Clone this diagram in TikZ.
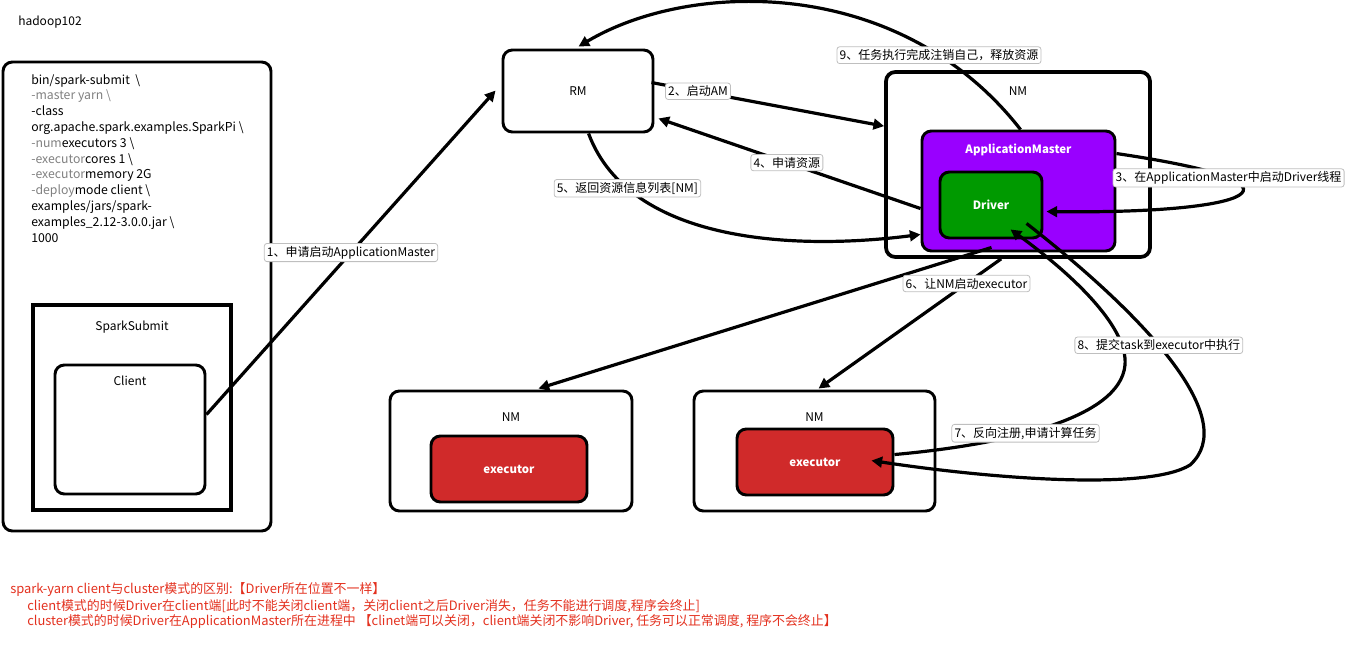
\documentclass[tikz,border=0pt]{standalone}
\usepackage{fontspec}
\setmainfont{Noto Sans CJK SC}
\usetikzlibrary{fit,calc,arrows.meta}
\definecolor{ampurple}{HTML}{9900FF}
\definecolor{drvgreen}{HTML}{009A00}
\definecolor{exred}{HTML}{D02A2A}
\definecolor{notered}{HTML}{E3301E}
\definecolor{codegray}{HTML}{808080}
\begin{document}
\begin{tikzpicture}[x=0.75pt,y=-0.75pt,
  box/.style={draw, line width=2.2pt, rounded corners=7pt, inner sep=0pt},
  sqbox/.style={draw, line width=2.8pt, inner sep=0pt},
  conn/.style={line width=2.4pt, -{Triangle[length=8pt,width=8pt]}},
  lbl/.style={draw=black!25, line width=0.6pt, fill=white, rounded corners=2pt, inner sep=2pt, font=\fontsize{9}{11}\selectfont, text=black},
  txt/.style={font=\fontsize{9}{11}\selectfont, inner sep=0pt},
  wtxt/.style={font=\fontsize{8.6}{11}\selectfont\bfseries, text=white, inner sep=0pt},
  note/.style={font=\fontsize{9.7}{11}\selectfont, text=notered, anchor=west, inner sep=0pt}]
\useasboundingbox (0,0) rectangle (1349,661);

\node[txt, anchor=west] (host) at (18,22) {hadoop102};

% left client area
\node[box, fit={(3,62) (271,531)}] (outer) {};
\node[txt, anchor=north west, align=left, font=\fontsize{9.2}{11.85}\selectfont] (cmd) at (31,74) {%
bin/spark-submit\ \ \textbackslash\\
\textcolor{codegray}{-master yarn \textbackslash}\\
-class\\
org.apache.spark.examples.SparkPi \textbackslash\\
\textcolor{codegray}{-num}executors 3 \textbackslash\\
\textcolor{codegray}{-executor}cores 1 \textbackslash\\
\textcolor{codegray}{-executor}memory 2G\\
\textcolor{codegray}{-deploy}mode client \textbackslash\\
examples/jars/spark-\\
examples\_2.12-3.0.0.jar \textbackslash\\
1000};
\node[sqbox, fit={(33,305) (231,510)}] (ss) {};
\node[txt] (sslbl) at ($(ss.north)+(0,24)$) {SparkSubmit};
\node[box, fit={(55,365) (205,494)}] (client) {};
\node[txt] (clientlbl) at ($(client.north)+(0,17)$) {Client};

% RM
\node[box, fit={(503,50) (653,132)}] (rm) {};
\node[txt] (rmlbl) at (rm.center) {RM};

% NM with AM and Driver
\node[box, line width=2.8pt, fit={(886,72) (1150,257)}] (nm1) {};
\node[txt] (nm1lbl) at ($(nm1.north)+(0,21)$) {NM};
\node[box, fill=ampurple, fit={(922,131) (1115,251)}] (am) {};
\node[wtxt] (amlbl) at ($(am.north)+(0,20)$) {ApplicationMaster};
\node[box, fill=drvgreen, fit={(940,172) (1042,238)}] (drv) {};
\node[wtxt] (drvlbl) at (drv.center) {Driver};

% lower NMs
\node[box, fit={(390,391) (632,511)}] (nm2) {};
\node[txt] (nm2lbl) at ($(nm2.north)+(0,28)$) {NM};
\node[box, fill=exred, fit={(431,436) (587,502)}] (ex2) {};
\node[wtxt] (ex2lbl) at (ex2.center) {executor};
\node[box, fit={(694,391) (935,511)}] (nm3) {};
\node[txt] (nm3lbl) at ($(nm3.north)+(0,28)$) {NM};
\node[box, fill=exred, fit={(737,429) (893,495)}] (ex3) {};
\node[wtxt] (ex3lbl) at (ex3.center) {executor};

% connectors
\draw[conn] ($(client.north east)+(0,51)$) -- node[lbl,pos=0.5] (l1) {1、申请启动ApplicationMaster} ($(rm.north west)+(-6,42)$);
\draw[conn] ($(rm.north east)+(-3,34)$) -- node[lbl,pos=0.2] (l2) {2、启动AM} ($(nm1.north west)+(0,56)$);
\draw[conn] ($(am.north east)+(0,24)$) .. controls (1330,185) and (1250,214) .. node[lbl,pos=0.27] (l3) {3、在ApplicationMaster中启动Driver线程} ($(drv.north east)+(3,41)$);
\draw[conn] ($(am.north west)+(0,79)$) -- node[lbl,pos=0.51] (l4) {4、申请资源} ($(rm.south east)+(4,-15)$);
\draw[conn] ($(rm.south west)+(87,0)$) .. controls (630,245) and (800,250) .. node[lbl,pos=0.2] (l5) {5、返回资源信息列表[NM]} ($(am.south west)+(0,-18)$);
\draw[conn] ($(am.south west)+(71,-5)$) -- ($(nm2.north west)+(150,-1)$);
\draw[conn] ($(nm1.south west)+(117,0)$) -- node[lbl,pos=0.19] (l6) {6、让NM启动executor} ($(nm3.north west)+(126,-1)$);
\draw[conn] ($(ex3.north east)+(0,27)$) .. controls (1000,445) and (1120,420) .. node[lbl,pos=0.42] (l7) {7、反向注册,申请计算任务} (1125,365) .. controls (1128,330) and (1080,280) .. ($(drv.south west)+(72,-10)$);
\draw[conn] ($(drv.south west)+(88,-16)$) .. controls (1150,320) and (1240,420) .. node[lbl,pos=0.43] (l8) {8、提交task到executor中执行} (1190,465) .. controls (1150,490) and (1000,480) .. ($(ex3.north east)+(-23,33)$);
\draw[conn] ($(am.north west)+(100,0)$) .. controls (900,-25) and (690,-20) .. node[lbl,pos=0.2] (l9) {9、任务执行完成注销自己，释放资源} ($(rm.north west)+(77,-2)$);

% notes
\node[note] (n1) at (10,590) {spark-yarn client与cluster模式的区别:【Driver所在位置不一样】};
\node[note] (n2) at (27,606) {client模式的时候Driver在client端[此时不能关闭client端，关闭client之后Driver消失，任务不能进行调度,程序会终止]};
\node[note] (n3) at (27,621) {cluster模式的时候Driver在ApplicationMaster所在进程中 【clinet端可以关闭，client端关闭不影响Driver, 任务可以正常调度, 程序不会终止】};
\end{tikzpicture}
\end{document}
